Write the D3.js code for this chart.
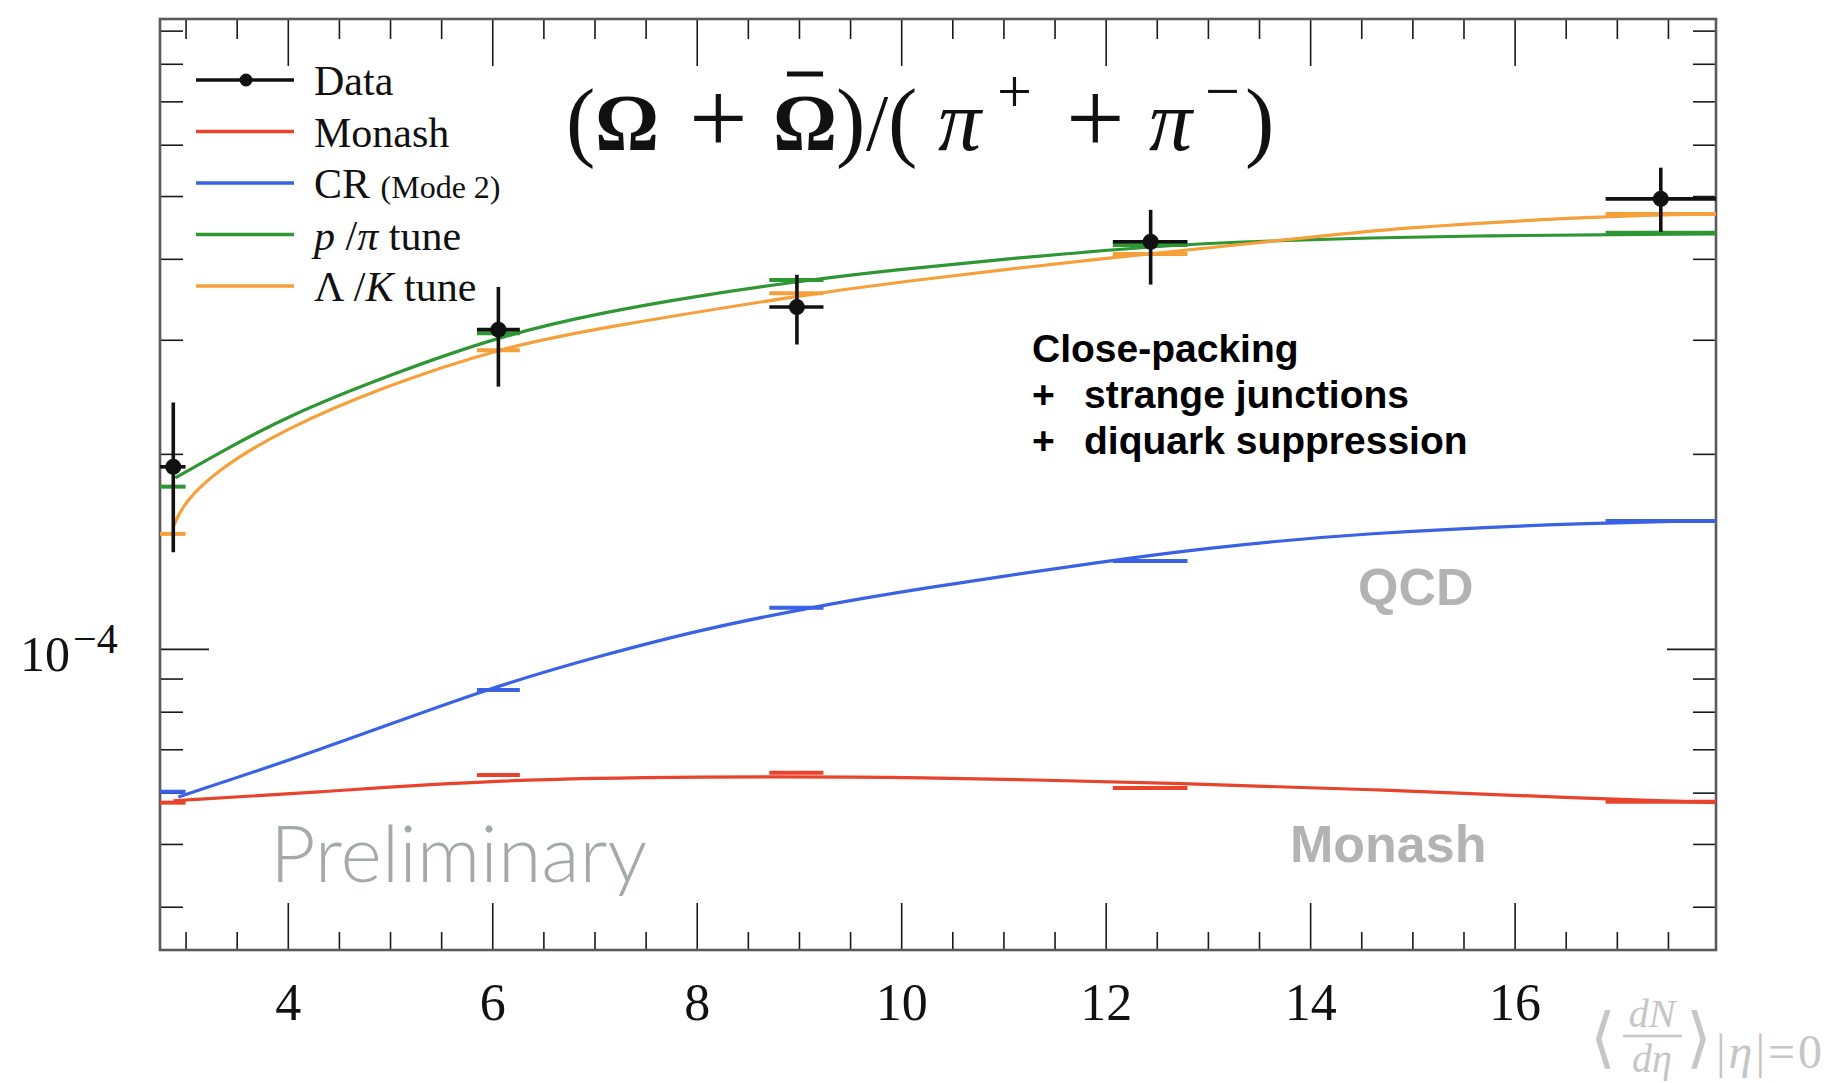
<!doctype html>
<html>
<head>
<meta charset="UTF-8">
<title>Omega / pi ratio vs multiplicity</title>
<script src="https://cdn.jsdelivr.net/npm/d3@7"></script>
<style>
body { margin: 0; background: #fff; }
.tick line { stroke: #1a1a1a; stroke-width: 1.6; }
.serif { font-family: "Liberation Serif", "DejaVu Serif", serif; }
.sans { font-family: "Liberation Sans", Arial, sans-serif; }
</style>
</head>
<body>
<script>
// axis ticks
var xTicksMajor = [4, 6, 8, 10, 12, 14, 16];
var xTickLabels = ["4", "6", "8", "10", "12", "14", "16"];
var xTicksMinor = [3, 3.5, 4.5, 5, 5.5, 6.5, 7, 7.5, 8.5, 9, 9.5, 10.5, 11, 11.5, 12.5, 13, 13.5, 14.5, 15, 15.5, 16.5, 17, 17.5];
var yTicksMajor = [1e-4];
var yTicksMinor = [4e-5, 5e-5, 6e-5, 7e-5, 8e-5, 9e-5, 2e-4, 3e-4, 4e-4, 5e-4, 6e-4, 7e-4, 8e-4, 9e-4];

// multiplicity bins
var binLo = [2.75, 5.85, 8.71, 12.07, 16.89];
var binHi = [3.00, 6.27, 9.24, 12.80, 17.97];

// data points
var dataX   = [2.88, 6.06, 8.98, 12.44, 17.43];
var dataY   = [1.91e-4, 3.11e-4, 3.37e-4, 4.25e-4, 4.95e-4];
var dataYLo = [1.41e-4, 2.54e-4, 2.95e-4, 3.65e-4, 4.40e-4];
var dataYHi = [2.40e-4, 3.62e-4, 3.78e-4, 4.76e-4, 5.53e-4];

// model values per bin
var monashBins = [5.79e-5, 6.39e-5, 6.44e-5, 6.10e-5, 5.81e-5];
var crBins     = [6.02e-5, 8.64e-5, 1.157e-4, 1.367e-4, 1.576e-4];
var ppiBins    = [1.78e-4, 3.07e-4, 3.71e-4, 4.20e-4, 4.39e-4];
var lkBins     = [1.505e-4, 2.89e-4, 3.54e-4, 4.07e-4, 4.69e-4];

// smooth model curves
var monashCurveX = [2.88, 4.24, 5.99, 8.03, 10.08, 12.92, 14.71, 16.57, 17.97];
var monashCurveY = [5.83e-5, 6.00e-5, 6.28e-5, 6.35e-5, 6.35e-5, 6.19e-5, 6.06e-5, 5.89e-5, 5.79e-5];
var crCurveX = [2.93, 4.24, 5.99, 7.09, 8.03, 9.09, 10.09, 12.08, 12.92, 14.45, 16.95, 17.97];
var crCurveY = [5.91e-5, 6.91e-5, 8.74e-5, 9.79e-5, 1.070e-4, 1.157e-4, 1.233e-4, 1.372e-4, 1.427e-4, 1.510e-4, 1.570e-4, 1.576e-4];
var ppiCurveX = [2.90, 3.31, 4.00, 5.00, 6.07, 7.05, 8.03, 8.98, 9.89, 11.11, 12.44, 13.41, 15.63, 17.97];
var ppiCurveY = [1.836e-4, 2.00e-4, 2.29e-4, 2.65e-4, 3.04e-4, 3.30e-4, 3.51e-4, 3.69e-4, 3.84e-4, 4.01e-4, 4.18e-4, 4.26e-4, 4.35e-4, 4.37e-4];
var lkCurveX = [2.88, 2.98, 3.31, 3.95, 4.93, 6.07, 7.05, 8.98, 9.89, 12.08, 13.41, 14.89, 16.92, 17.97];
var lkCurveY = [1.543e-4, 1.680e-4, 1.889e-4, 2.178e-4, 2.537e-4, 2.913e-4, 3.129e-4, 3.506e-4, 3.672e-4, 4.027e-4, 4.217e-4, 4.480e-4, 4.658e-4, 4.692e-4];

var legendColors = ["#111111", "#e8432c", "#3a62e4", "#2e9632", "#f5a03a"];

var w = 1843, h = 1083;
var margin = {top: 19, right: 127, bottom: 133, left: 160};

var x = d3.scaleLinear().domain([2.75, 17.97]).range([margin.left, w - margin.right]);
var y = d3.scaleLog().domain([3.43e-5, 9.38e-4]).range([h - margin.bottom, margin.top]);

var svg = d3.select("body").append("svg")
  .attr("width", w)
  .attr("height", h);

svg.append("defs").append("clipPath").attr("id", "plot")
  .append("rect")
  .attr("x", margin.left).attr("y", margin.top)
  .attr("width", w - margin.left - margin.right)
  .attr("height", h - margin.top - margin.bottom);

// ticks on all four sides, pointing inwards
function drawAxis(axis, tr) {
  var g = svg.append("g").attr("transform", tr).call(axis);
  g.select(".domain").remove();
  return g;
}
var bottomY = h - margin.bottom, rightX = w - margin.right;
drawAxis(d3.axisBottom(x).tickValues(xTicksMinor).tickSize(-18).tickFormat(""), "translate(0," + bottomY + ")");
drawAxis(d3.axisBottom(x).tickValues(xTicksMajor).tickSize(-47).tickFormat(""), "translate(0," + bottomY + ")");
drawAxis(d3.axisTop(x).tickValues(xTicksMinor).tickSize(-20).tickFormat(""), "translate(0," + margin.top + ")");
drawAxis(d3.axisTop(x).tickValues(xTicksMajor).tickSize(-47).tickFormat(""), "translate(0," + margin.top + ")");
drawAxis(d3.axisLeft(y).tickValues(yTicksMinor).tickSize(-23).tickFormat(""), "translate(" + margin.left + ",0)");
drawAxis(d3.axisLeft(y).tickValues(yTicksMajor).tickSize(-49).tickFormat(""), "translate(" + margin.left + ",0)");
drawAxis(d3.axisRight(y).tickValues(yTicksMinor).tickSize(-23).tickFormat(""), "translate(" + rightX + ",0)");
drawAxis(d3.axisRight(y).tickValues(yTicksMajor).tickSize(-49).tickFormat(""), "translate(" + rightX + ",0)");

// x tick labels
var gl = drawAxis(d3.axisBottom(x).tickValues(xTicksMajor).tickSize(0).tickPadding(33)
    .tickFormat(function(d, i) { return xTickLabels[i]; }), "translate(0," + bottomY + ")");
gl.selectAll("text")
  .attr("font-family", "'Liberation Serif', serif")
  .attr("font-size", 52)
  .attr("fill", "#111");

// y label 10^-4
var yl = svg.append("text").attr("class", "serif")
  .attr("x", 20).attr("y", y(1e-4) + 22)
  .attr("font-size", 50).attr("fill", "#111");
yl.append("tspan").text("10");
yl.append("tspan").attr("font-size", 42).attr("dy", -18).attr("dx", 3).text("\u22124");

// frame
svg.append("rect")
  .attr("x", margin.left).attr("y", margin.top)
  .attr("width", w - margin.left - margin.right)
  .attr("height", h - margin.top - margin.bottom)
  .attr("fill", "none")
  .attr("stroke", "#5a5a5a")
  .attr("stroke-width", 2.6);

var plot = svg.append("g").attr("clip-path", "url(#plot)");

var line = d3.line()
  .x(function(d) { return x(d[0]); })
  .y(function(d) { return y(d[1]); })
  .curve(d3.curveBasis);

var models = [
  {cx: monashCurveX, cy: monashCurveY, bins: monashBins, color: legendColors[1]},
  {cx: crCurveX, cy: crCurveY, bins: crBins, color: legendColors[2]},
  {cx: ppiCurveX, cy: ppiCurveY, bins: ppiBins, color: legendColors[3]},
  {cx: lkCurveX, cy: lkCurveY, bins: lkBins, color: legendColors[4]}
];

models.forEach(function(m) {
  plot.append("path")
    .datum(d3.zip(m.cx, m.cy))
    .attr("d", line)
    .attr("fill", "none")
    .attr("stroke", m.color)
    .attr("stroke-width", 3.2);
  plot.selectAll(null)
    .data(m.bins)
    .enter()
    .append("line")
    .attr("x1", function(d, i) { return x(binLo[i]); })
    .attr("x2", function(d, i) { return x(binHi[i]); })
    .attr("y1", function(d) { return y(d); })
    .attr("y2", function(d) { return y(d); })
    .attr("stroke", m.color)
    .attr("stroke-width", 4);
});

// data with error bars
var pts = plot.selectAll(".pt")
  .data(dataX)
  .enter()
  .append("g").attr("class", "pt");
pts.append("line")
  .attr("x1", function(d) { return x(d); })
  .attr("x2", function(d) { return x(d); })
  .attr("y1", function(d, i) { return y(dataYLo[i]); })
  .attr("y2", function(d, i) { return y(dataYHi[i]); })
  .attr("stroke", "#111").attr("stroke-width", 3.6);
pts.append("line")
  .attr("x1", function(d, i) { return x(binLo[i]); })
  .attr("x2", function(d, i) { return x(binHi[i]); })
  .attr("y1", function(d, i) { return y(dataY[i]); })
  .attr("y2", function(d, i) { return y(dataY[i]); })
  .attr("stroke", "#111").attr("stroke-width", 3.6);
pts.append("circle")
  .attr("cx", function(d) { return x(d); })
  .attr("cy", function(d, i) { return y(dataY[i]); })
  .attr("r", 8)
  .attr("fill", "#111");

// legend
var legendLabels = [
  [["Data", ""]],
  [["Monash", ""]],
  [["CR ", ""], ["(Mode 2)", "s"]],
  [["p", "i"], [" /", ""], ["\u03c0", "i"], [" tune", ""]],
  [["\u039b /", ""], ["K", "i"], [" tune", ""]]
];
var leg = svg.append("g");
legendLabels.forEach(function(parts, i) {
  var ly = 80 + i * 51.5;
  leg.append("line")
    .attr("x1", 196).attr("x2", 294)
    .attr("y1", ly).attr("y2", ly)
    .attr("stroke", legendColors[i])
    .attr("stroke-width", 3.4);
  if (i === 0) {
    leg.append("circle").attr("cx", 246).attr("cy", ly).attr("r", 6.5).attr("fill", "#111");
  }
  var t = leg.append("text").attr("class", "serif")
    .attr("x", 314).attr("y", ly + 15)
    .attr("font-size", 42).attr("fill", "#111");
  parts.forEach(function(p) {
    var s = t.append("tspan").text(p[0]);
    if (p[1] === "i") s.attr("font-style", "italic");
    if (p[1] === "s") s.attr("font-size", 32);
  });
});

// title (Omega + Omegabar)/(pi+ + pi-)
// [text, left x, style]  p = paren, b = bold, i = italic, o = operator, s = superscript
var titleParts = [
  ["(", 566, "p"], ["\u03a9", 595, "b"], ["+", 689, "o"], ["\u03a9", 773, "b"], [")", 836, "p"],
  ["/", 866, ""], ["(", 888, "p"], ["\u03c0", 938, "i"], ["+", 997, "s"], ["+", 1066, "o"],
  ["\u03c0", 1149, "i"], ["\u2212", 1205, "s"], [")", 1245, "p"]
];
var title = svg.append("text").attr("class", "serif")
  .attr("font-size", 80).attr("fill", "#111");
titleParts.forEach(function(p) {
  var s = title.append("tspan").attr("x", p[1]).attr("y", p[2] === "s" ? 112 : 150).text(p[0]);
  if (p[2] === "i") s.attr("font-style", "italic").attr("font-size", 86);
  if (p[2] === "b") s.attr("font-weight", "bold");
  if (p[2] === "p") s.attr("font-size", 88);
  if (p[2] === "o") s.attr("font-size", 104).attr("y", 153);
  if (p[2] === "s") s.attr("font-size", 62);
});
// bar over the second Omega
var tn = title.node();
var o0 = tn.getStartPositionOfChar(3), o1 = tn.getEndPositionOfChar(3);
svg.append("line")
  .attr("x1", o0.x + 14).attr("x2", o1.x - 14)
  .attr("y1", 74).attr("y2", 74)
  .attr("stroke", "#111").attr("stroke-width", 5);

// annotation
var ann = svg.append("g").attr("class", "sans")
  .attr("font-size", 39).attr("font-weight", "bold").attr("fill", "#000");
ann.append("text").attr("x", 1032).attr("y", 362).text("Close-packing");
ann.append("text").attr("x", 1032).attr("y", 408).text("+");
ann.append("text").attr("x", 1084).attr("y", 408).text("strange junctions");
ann.append("text").attr("x", 1032).attr("y", 454).text("+");
ann.append("text").attr("x", 1084).attr("y", 454).text("diquark suppression");

// gray labels
svg.append("text").attr("class", "sans")
  .attr("x", 1358).attr("y", 605)
  .attr("font-size", 52).attr("font-weight", "bold").attr("fill", "#b3b3b3")
  .text("QCD");
svg.append("text").attr("class", "sans")
  .attr("x", 1290).attr("y", 862)
  .attr("font-size", 52).attr("font-weight", "bold").attr("fill", "#b3b3b3")
  .text("Monash");
svg.append("text")
  .attr("x", 270).attr("y", 882)
  .attr("font-family", "Lato, 'Open Sans', sans-serif")
  .attr("font-weight", 300)
  .attr("font-size", 79).attr("fill", "#a4aaa8")
  .text("Preliminary");

// x axis title <dN/deta>|eta|=0
var xt = svg.append("g").attr("class", "serif").attr("fill", "#c6c6c6");
xt.append("text").attr("x", 1590).attr("y", 1060).attr("font-size", 66).attr("font-family", "'DejaVu Serif', serif").text("\u27e8");
xt.append("text").attr("x", 1652).attr("y", 1027).attr("font-size", 40).attr("text-anchor", "middle").attr("font-style", "italic").text("dN");
xt.append("line").attr("x1", 1623).attr("x2", 1682).attr("y1", 1036).attr("y2", 1036).attr("stroke", "#c6c6c6").attr("stroke-width", 2.5);
xt.append("text").attr("x", 1652).attr("y", 1072).attr("font-size", 40).attr("text-anchor", "middle").attr("font-style", "italic").text("d\u03b7");
xt.append("text").attr("x", 1686).attr("y", 1060).attr("font-size", 66).attr("font-family", "'DejaVu Serif', serif").text("\u27e9");
var sub = xt.append("text").attr("x", 1716).attr("y", 1068).attr("font-size", 48).attr("letter-spacing", 3);
sub.append("tspan").text("|");
sub.append("tspan").attr("font-style", "italic").text("\u03b7");
sub.append("tspan").text("|=0");
</script>
</body>
</html>
